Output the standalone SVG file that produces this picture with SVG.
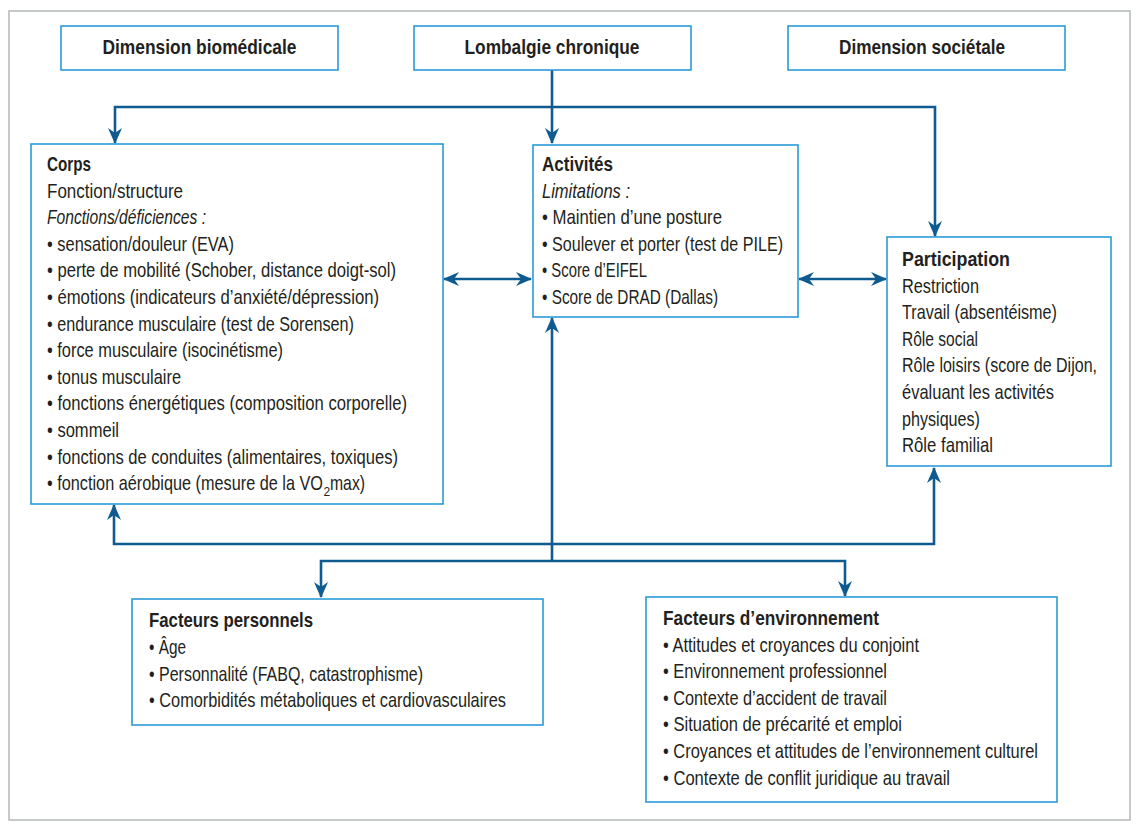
<svg xmlns="http://www.w3.org/2000/svg" width="1139" height="832" viewBox="0 0 1139 832">
<style>
.frame{fill:#fff;stroke:#b4b8b8;stroke-width:1.5}
.box{fill:#fff;stroke:#2a9ad6;stroke-width:1.6}
.t{font-family:"Liberation Sans Narrow","Liberation Sans",Arial,sans-serif;font-size:21px;fill:#231f20}
.s{font-family:"Liberation Sans Narrow","Liberation Sans",Arial,sans-serif;font-size:12px;fill:#231f20}
.b{font-weight:bold}
.i{font-style:italic}
.c{text-anchor:middle}
.con{fill:none;stroke:#0f5b8f;stroke-width:2.6}
</style>
<defs>
<marker id="ah" viewBox="0 0 16 14" refX="15" refY="7" markerWidth="16" markerHeight="14" markerUnits="userSpaceOnUse" orient="auto-start-reverse">
<path d="M0,0 L16,7 L0,14 L5,7 z" fill="#0f5b8f"/>
</marker>
</defs>
<rect x="0" y="0" width="1139" height="832" fill="#fff"/>
<rect class="frame" x="9" y="11" width="1121" height="809"/>

<g id="connectors">
<path class="con" d="M552,70 V143" marker-end="url(#ah)"/>
<path class="con" d="M115,143 V107 H935 V236" marker-start="url(#ah)" marker-end="url(#ah)"/>
<path class="con" d="M444,279 H531" marker-start="url(#ah)" marker-end="url(#ah)"/>
<path class="con" d="M799,279 H886" marker-start="url(#ah)" marker-end="url(#ah)"/>
<path class="con" d="M114,505 V544 H934 V468" marker-start="url(#ah)" marker-end="url(#ah)"/>
<path class="con" d="M552,318 V561" marker-start="url(#ah)"/>
<path class="con" d="M321,597 V561 H845 V596" marker-start="url(#ah)" marker-end="url(#ah)"/>
</g>

<g id="dim-bio">
<rect class="box" x="61" y="26" width="277" height="44"/>
<text class="t b c" x="199.5" y="54" textLength="194" lengthAdjust="spacingAndGlyphs">Dimension biomédicale</text>
</g>
<g id="lombalgie">
<rect class="box" x="414" y="26" width="277" height="44"/>
<text class="t b c" x="552" y="54" textLength="175" lengthAdjust="spacingAndGlyphs">Lombalgie chronique</text>
</g>
<g id="dim-soc">
<rect class="box" x="788" y="26" width="277" height="44"/>
<text class="t b c" x="922" y="54" textLength="166" lengthAdjust="spacingAndGlyphs">Dimension sociétale</text>
</g>

<g id="corps">
<rect class="box" x="31" y="144" width="412" height="360"/>
<text class="t b" x="47" y="171" textLength="44" lengthAdjust="spacingAndGlyphs">Corps</text>
<text class="t" x="47" y="197.6" textLength="136" lengthAdjust="spacingAndGlyphs">Fonction/structure</text>
<text class="t i" x="47" y="224.2" textLength="159" lengthAdjust="spacingAndGlyphs">Fonctions/déficiences :</text>
<text class="t" x="47" y="250.8" textLength="187" lengthAdjust="spacingAndGlyphs">• sensation/douleur (EVA)</text>
<text class="t" x="47" y="277.4" textLength="349" lengthAdjust="spacingAndGlyphs">• perte de mobilité (Schober, distance doigt-sol)</text>
<text class="t" x="47" y="304" textLength="332" lengthAdjust="spacingAndGlyphs">• émotions (indicateurs d’anxiété/dépression)</text>
<text class="t" x="47" y="330.6" textLength="307" lengthAdjust="spacingAndGlyphs">• endurance musculaire (test de Sorensen)</text>
<text class="t" x="47" y="357.2" textLength="236" lengthAdjust="spacingAndGlyphs">• force musculaire (isocinétisme)</text>
<text class="t" x="47" y="383.8" textLength="134" lengthAdjust="spacingAndGlyphs">• tonus musculaire</text>
<text class="t" x="47" y="410.4" textLength="360" lengthAdjust="spacingAndGlyphs">• fonctions énergétiques (composition corporelle)</text>
<text class="t" x="47" y="437" textLength="72" lengthAdjust="spacingAndGlyphs">• sommeil</text>
<text class="t" x="47" y="463.6" textLength="351" lengthAdjust="spacingAndGlyphs">• fonctions de conduites (alimentaires, toxiques)</text>
<text class="t" x="47" y="490.2" textLength="276" lengthAdjust="spacingAndGlyphs">• fonction aérobique (mesure de la VO</text>
<text class="s" x="323.5" y="496">2</text>
<text class="t" x="330" y="490.2" textLength="35" lengthAdjust="spacingAndGlyphs">max)</text>
</g>

<g id="activites">
<rect class="box" x="533" y="145" width="265" height="172"/>
<text class="t b" x="542" y="171" textLength="71" lengthAdjust="spacingAndGlyphs">Activités</text>
<text class="t i" x="542" y="197.6" textLength="88" lengthAdjust="spacingAndGlyphs">Limitations :</text>
<text class="t" x="542" y="224.2" textLength="180" lengthAdjust="spacingAndGlyphs">• Maintien d’une posture</text>
<text class="t" x="542" y="250.8" textLength="241" lengthAdjust="spacingAndGlyphs">• Soulever et porter (test de PILE)</text>
<text class="t" x="542" y="277.4" textLength="105" lengthAdjust="spacingAndGlyphs">• Score d’EIFEL</text>
<text class="t" x="542" y="304" textLength="176" lengthAdjust="spacingAndGlyphs">• Score de DRAD (Dallas)</text>
</g>

<g id="participation">
<rect class="box" x="887" y="237" width="224" height="229"/>
<text class="t b" x="902" y="266" textLength="108" lengthAdjust="spacingAndGlyphs">Participation</text>
<text class="t" x="902" y="292.6" textLength="77" lengthAdjust="spacingAndGlyphs">Restriction</text>
<text class="t" x="902" y="319.2" textLength="155" lengthAdjust="spacingAndGlyphs">Travail (absentéisme)</text>
<text class="t" x="902" y="345.8" textLength="76" lengthAdjust="spacingAndGlyphs">Rôle social</text>
<text class="t" x="902" y="372.4" textLength="195" lengthAdjust="spacingAndGlyphs">Rôle loisirs (score de Dijon,</text>
<text class="t" x="902" y="399" textLength="152" lengthAdjust="spacingAndGlyphs">évaluant les activités</text>
<text class="t" x="902" y="425.6" textLength="78" lengthAdjust="spacingAndGlyphs">physiques)</text>
<text class="t" x="902" y="452.2" textLength="91" lengthAdjust="spacingAndGlyphs">Rôle familial</text>
</g>

<g id="facteurs-personnels">
<rect class="box" x="132" y="599" width="411" height="126"/>
<text class="t b" x="149" y="627.3" textLength="164" lengthAdjust="spacingAndGlyphs">Facteurs personnels</text>
<text class="t" x="149" y="653.9" textLength="37" lengthAdjust="spacingAndGlyphs">• Âge</text>
<text class="t" x="149" y="680.5" textLength="274" lengthAdjust="spacingAndGlyphs">• Personnalité (FABQ, catastrophisme)</text>
<text class="t" x="149" y="707.1" textLength="357" lengthAdjust="spacingAndGlyphs">• Comorbidités métaboliques et cardiovasculaires</text>
</g>

<g id="facteurs-environnement">
<rect class="box" x="646" y="597" width="411" height="205"/>
<text class="t b" x="663" y="625" textLength="216" lengthAdjust="spacingAndGlyphs">Facteurs d’environnement</text>
<text class="t" x="663" y="651.6" textLength="256" lengthAdjust="spacingAndGlyphs">• Attitudes et croyances du conjoint</text>
<text class="t" x="663" y="678.2" textLength="224" lengthAdjust="spacingAndGlyphs">• Environnement professionnel</text>
<text class="t" x="663" y="704.8" textLength="224" lengthAdjust="spacingAndGlyphs">• Contexte d’accident de travail</text>
<text class="t" x="663" y="731.4" textLength="239" lengthAdjust="spacingAndGlyphs">• Situation de précarité et emploi</text>
<text class="t" x="663" y="758" textLength="375" lengthAdjust="spacingAndGlyphs">• Croyances et attitudes de l’environnement culturel</text>
<text class="t" x="663" y="784.6" textLength="287" lengthAdjust="spacingAndGlyphs">• Contexte de conflit juridique au travail</text>
</g>
</svg>
